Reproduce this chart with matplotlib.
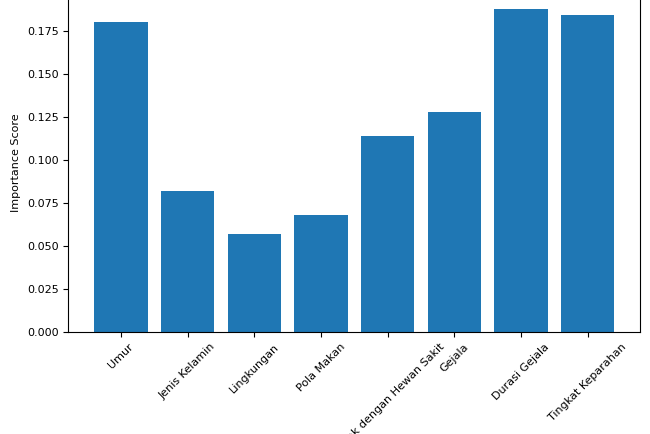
import matplotlib
matplotlib.use('Agg')
import matplotlib.pyplot as plt

features = ['Umur', 'Jenis Kelamin', 'Lingkungan', 'Pola Makan',
            'Kontak dengan Hewan Sakit', 'Gejala', 'Durasi Gejala', 'Tingkat Keparahan']
scores = [0.180, 0.082, 0.057, 0.068, 0.114, 0.128, 0.188, 0.184]

fig = plt.figure(figsize=(6.5, 4.34), dpi=100)
ax = fig.add_axes([0.105, 0.235, 0.88, 0.781])
ax.bar(features, scores, color='#1f77b4')
ax.set_ylabel('Importance Score', fontsize=8)
ax.tick_params(labelsize=8)
plt.setp(ax.get_xticklabels(), rotation=45)
ax.set_ylim(0, 0.197)
fig.savefig('out.png', dpi=100)
